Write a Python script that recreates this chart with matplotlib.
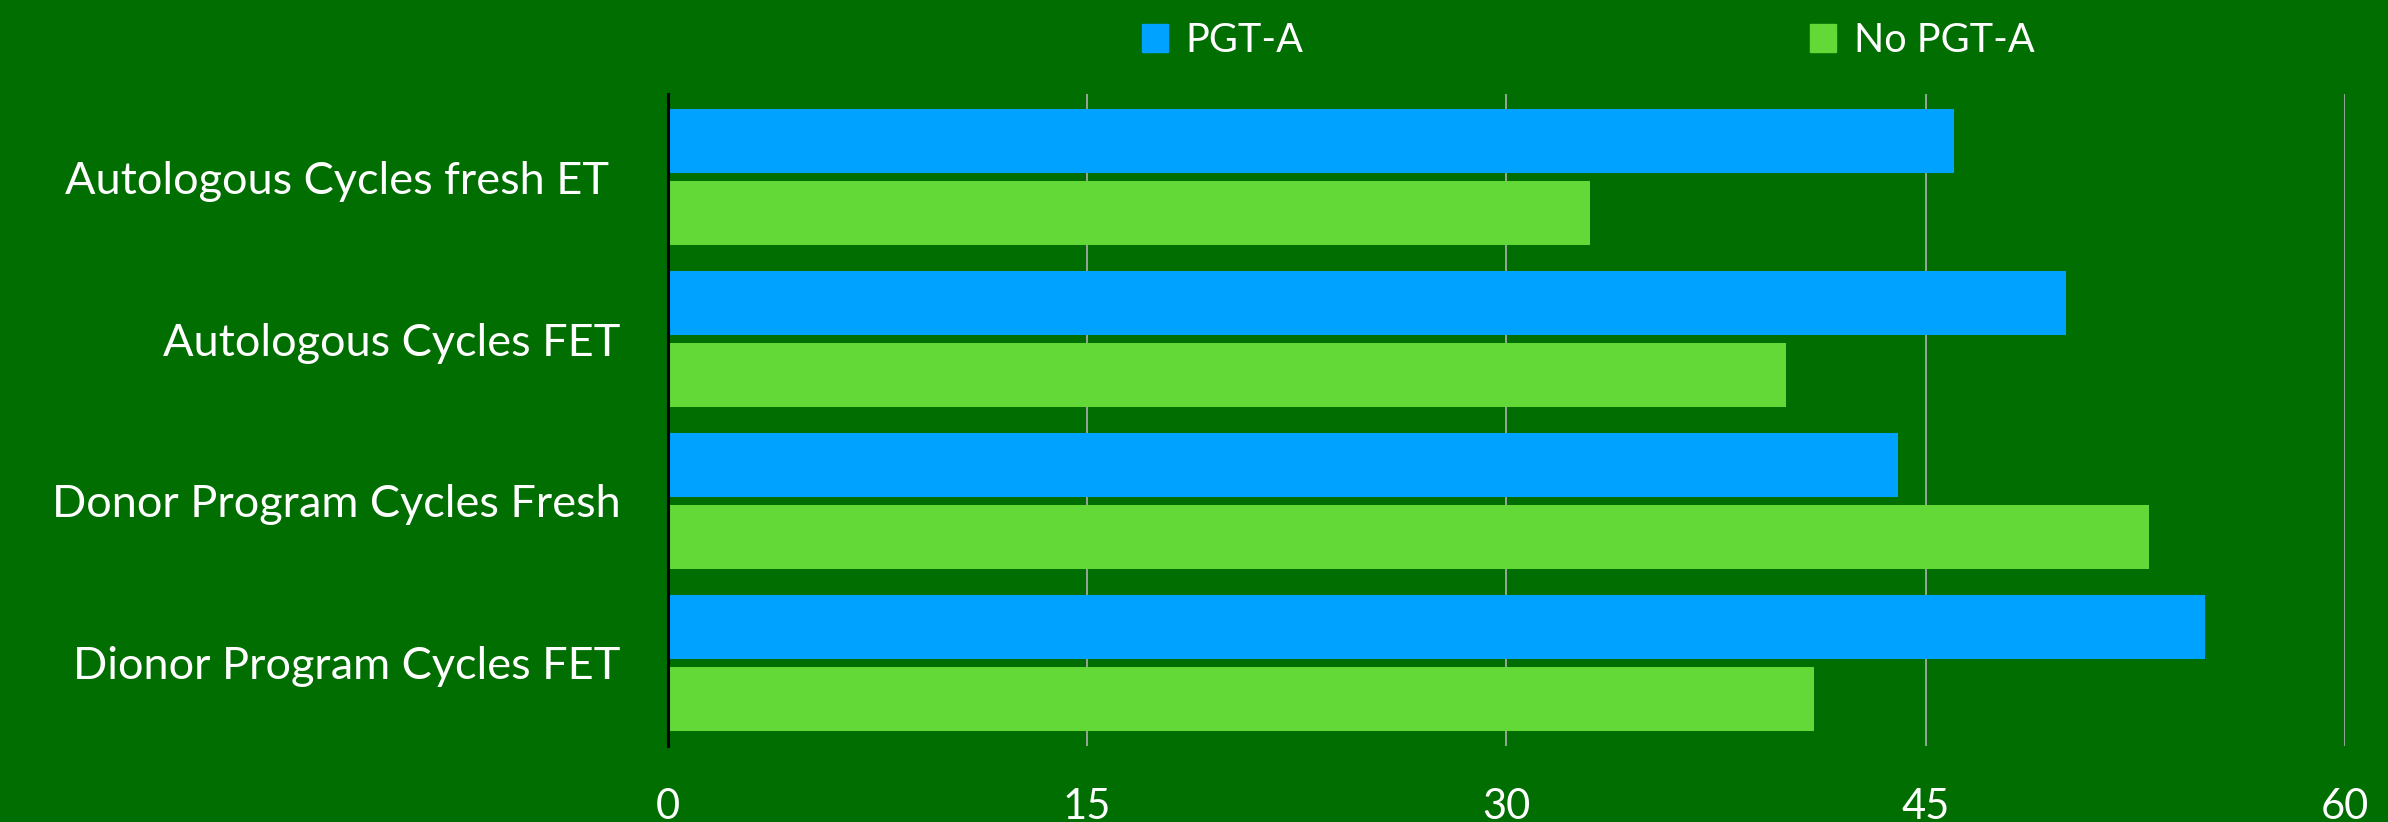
import matplotlib
matplotlib.use("Agg")
import matplotlib.pyplot as plt
from matplotlib.patches import Patch
import numpy as np

categories = ["Autologous Cycles fresh ET ", "Autologous Cycles FET",
              "Donor Program Cycles Fresh", "Dionor Program Cycles FET"]
pgt_a = [46, 50, 44, 55]
no_pgt_a = [33, 40, 53, 41]
x_ticks = [0, 15, 30, 45, 60]

BG = "#006E00"
BLUE = "#00A2FF"
GREEN = "#62D936"
FONT = ["Lato", "DejaVu Sans"]

plt.rcParams["font.family"] = FONT

fig = plt.figure(figsize=(23.88, 8.22), dpi=100, facecolor=BG)
ax = fig.add_axes([0.2797, 0.0925, 0.982 - 0.2797, 0.8856 - 0.0925])
ax.set_facecolor(BG)

y = np.arange(len(categories))
h = 0.395
off = 0.221
ax.barh(y - off, pgt_a, height=h, color=BLUE, zorder=3, label="PGT-A")
ax.barh(y + off, no_pgt_a, height=h, color=GREEN, zorder=3, label="No PGT-A")

ax.set_xlim(0, 60)
ax.set_ylim(3.513, -0.513)
ax.set_xticks(x_ticks)
ax.set_xticklabels([str(t) for t in x_ticks])
ax.set_yticks(y)
ax.set_yticklabels(categories)

ax.tick_params(axis="x", length=0, pad=30, labelsize=30, labelcolor="white")
ax.tick_params(axis="y", length=0, pad=34, labelsize=32.5, labelcolor="white")

ax.grid(axis="x", color="#B0B0B0", linewidth=1.2, zorder=1)
ax.grid(axis="y", visible=False)
for s in ["top", "right", "bottom"]:
    ax.spines[s].set_visible(False)
ax.spines["left"].set_color("black")
ax.spines["left"].set_linewidth(2.2)
ax.spines["left"].set_zorder(4)

handles = [Patch(color=BLUE, label="PGT-A"), Patch(color=GREEN, label="No PGT-A")]
leg = fig.legend(handles=handles, loc="center", bbox_to_anchor=(0.6652, 0.951),
                 ncol=2, frameon=False, fontsize=28.5, handlelength=0.65,
                 handleheight=0.7, handletextpad=0.45, columnspacing=12.8,
                 labelcolor="white")

fig.savefig("out.png", dpi=100, facecolor=BG)
